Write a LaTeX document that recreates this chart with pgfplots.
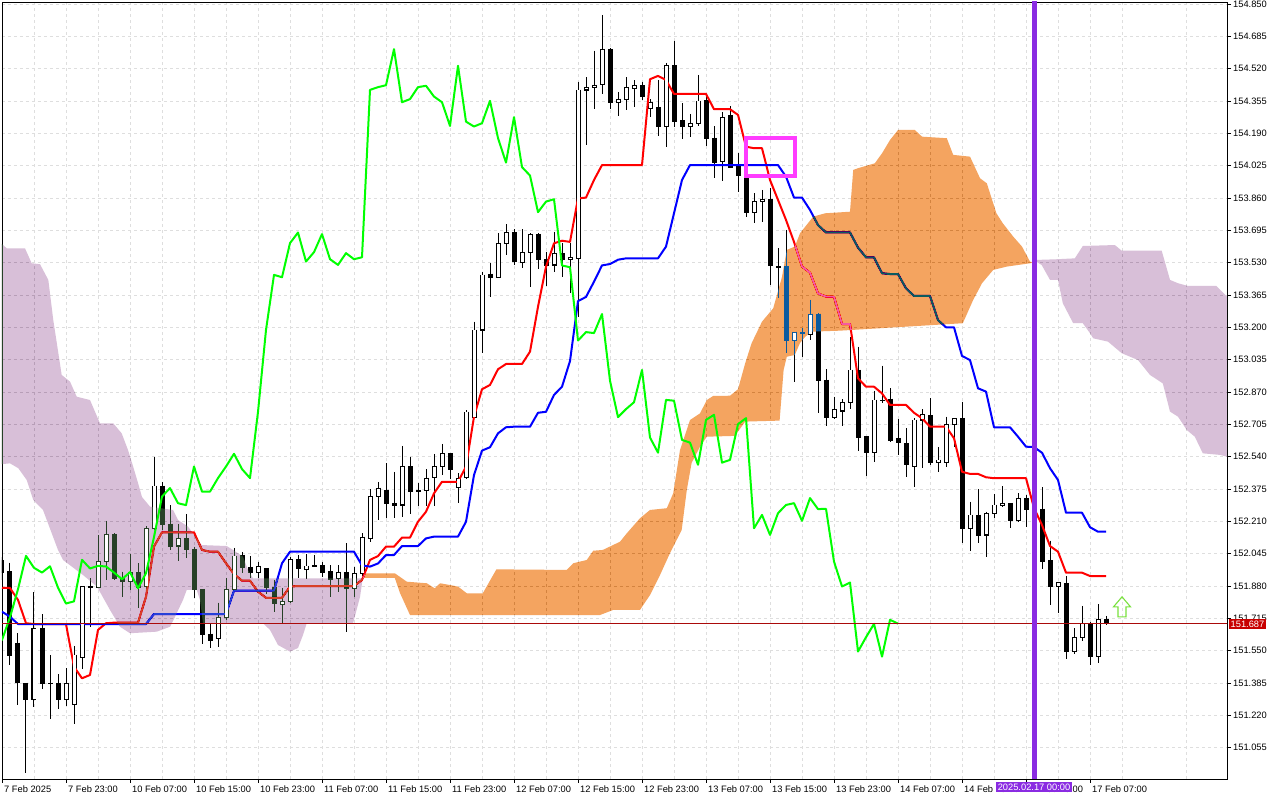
\documentclass[border=0pt]{standalone}
\usepackage{fontspec}
\setmainfont{Liberation Sans}
\usepackage{pgfplots}
\usepackage{pgfplotstable}
\pgfplotsset{compat=1.18}
\definecolor{sandyinv}{RGB}{11,91,159}
\definecolor{thistleinv}{RGB}{39,64,39}
\definecolor{bviolet}{RGB}{138,43,226}
\definecolor{magrect}{RGB}{255,60,255}
\definecolor{pricered}{RGB}{200,0,0}
\definecolor{pline}{RGB}{170,10,10}
\definecolor{arrowgreen}{RGB}{120,225,60}
\pgfdeclareplotmark{mtarrow}{%
  \pgfpathmoveto{\pgfpoint{0pt}{10pt}}%
  \pgfpathlineto{\pgfpoint{8.5pt}{0pt}}%
  \pgfpathlineto{\pgfpoint{4pt}{0pt}}%
  \pgfpathlineto{\pgfpoint{4pt}{-10pt}}%
  \pgfpathlineto{\pgfpoint{-4pt}{-10pt}}%
  \pgfpathlineto{\pgfpoint{-4pt}{0pt}}%
  \pgfpathlineto{\pgfpoint{-8.5pt}{0pt}}%
  \pgfpathclose\pgfusepathqstroke}
\pgfplotsset{mtbase/.style={scale only axis, width=1225pt, height=777pt,
  xmin=0, xmax=153.125, ymin=150.8952, ymax=154.8602}}

\pgfplotstableread{
i o h l c
0 152.009 152.028 151.911 151.948
1 151.952 151.999 151.477 151.526
2 151.588 151.640 151.273 151.387
3 151.384 151.384 150.927 151.302
4 151.302 151.849 151.261 151.664
5 151.664 151.737 151.353 151.384
6 151.384 151.528 151.200 151.380
7 151.384 151.429 151.254 151.302
8 151.302 151.460 151.268 151.384
9 151.276 151.574 151.176 151.528
10 151.516 151.880 151.455 151.877
11 151.877 151.919 151.672 151.872
12 151.873 152.140 151.870 152.004
13 152.004 152.212 151.911 152.144
14 152.144 152.149 151.911 151.919
15 151.919 151.953 151.822 151.902
16 151.902 152.042 151.860 151.948
17 151.948 151.997 151.766 151.870
18 151.877 152.186 151.860 152.171
19 152.171 152.540 152.166 152.390
20 152.390 152.411 152.166 152.196
21 152.196 152.293 152.064 152.084
22 152.084 152.195 152.009 152.120
23 152.120 152.248 152.023 152.064
24 152.064 152.081 151.819 151.860
25 151.863 151.863 151.584 151.630
26 151.634 151.690 151.565 151.604
27 151.613 151.795 151.570 151.720
28 151.720 151.921 151.707 151.863
29 151.863 152.075 151.860 152.033
30 152.038 152.054 151.945 151.972
31 151.975 152.033 151.921 151.948
32 151.948 152.004 151.919 151.980
33 151.970 151.970 151.839 151.871
34 151.871 151.911 151.749 151.790
35 151.787 151.870 151.684 151.801
36 151.800 152.028 151.795 152.013
37 152.016 152.038 151.921 151.969
38 151.965 152.043 151.914 151.982
39 151.984 152.038 151.979 151.979
40 151.986 152.003 151.928 151.948
41 151.952 151.987 151.825 151.914
42 151.919 151.985 151.849 151.950
43 151.950 152.097 151.647 151.868
44 151.868 151.979 151.825 151.945
45 151.945 152.149 151.931 152.129
46 152.123 152.374 152.106 152.336
47 152.337 152.411 152.219 152.379
48 152.370 152.506 152.226 152.302
49 152.302 152.463 152.226 152.292
50 152.293 152.595 152.231 152.489
51 152.489 152.540 152.246 152.361
52 152.366 152.404 152.288 152.361
53 152.365 152.476 152.288 152.430
54 152.435 152.554 152.288 152.489
55 152.489 152.605 152.446 152.554
56 152.554 152.557 152.425 152.476
57 152.384 152.455 152.302 152.430
58 152.435 152.778 152.425 152.768
59 152.741 153.229 152.736 153.186
60 153.186 153.484 153.068 153.467
61 153.472 153.527 153.356 153.455
62 153.455 153.680 153.450 153.629
63 153.629 153.727 153.569 153.683
64 153.683 153.700 153.518 153.535
65 153.532 153.700 153.501 153.583
66 153.583 153.680 153.407 153.675
67 153.675 153.680 153.496 153.547
68 153.547 153.586 153.411 153.518
69 153.518 153.688 153.484 153.578
70 153.578 153.628 153.458 153.547
71 153.547 153.629 153.377 153.557
72 153.552 154.454 153.254 154.411
73 154.411 154.476 154.131 154.425
74 154.425 154.612 154.313 154.435
75 154.437 154.794 154.389 154.619
76 154.619 154.624 154.313 154.348
77 154.348 154.402 154.279 154.364
78 154.364 154.476 154.309 154.425
79 154.420 154.462 154.323 154.432
80 154.432 154.454 154.360 154.377
81 154.318 154.365 154.275 154.348
82 154.323 154.462 154.176 154.227
83 154.224 154.550 154.119 154.534
84 154.534 154.663 154.224 154.249
85 154.254 154.343 154.160 154.224
86 154.224 154.289 154.173 154.241
87 154.241 154.488 154.227 154.355
88 154.360 154.386 154.127 154.165
89 154.165 154.227 153.961 154.040
90 154.045 154.300 153.948 154.272
91 154.279 154.330 154.013 154.017
92 154.028 154.088 153.892 153.974
93 153.969 153.969 153.765 153.787
94 153.787 153.884 153.731 153.841
95 153.841 153.901 153.739 153.853
96 153.850 153.910 153.416 153.515
97 153.510 153.603 153.348 153.506
98 153.510 153.697 153.068 153.132
99 153.132 153.175 152.923 153.175
100 153.173 153.195 153.050 153.170
101 153.165 153.340 153.135 153.267
102 153.267 153.272 152.764 152.927
103 152.931 152.987 152.697 152.741
104 152.741 152.846 152.731 152.782
105 152.773 152.834 152.698 152.817
106 152.817 153.152 152.782 152.982
107 152.982 153.101 152.571 152.637
108 152.642 152.642 152.441 152.560
109 152.562 152.877 152.514 152.829
110 152.829 153.004 152.812 152.825
111 152.834 152.889 152.616 152.625
112 152.634 152.731 152.549 152.611
113 152.605 152.685 152.438 152.498
114 152.489 152.736 152.384 152.727
115 152.727 152.782 152.481 152.753
116 152.748 152.838 152.498 152.509
117 152.511 152.588 152.463 152.523
118 152.511 152.744 152.489 152.705
119 152.705 152.736 152.591 152.736
120 152.736 152.821 152.098 152.174
121 152.174 152.310 152.060 152.242
122 152.242 152.374 152.098 152.140
123 152.140 152.259 152.027 152.251
124 152.251 152.350 152.226 152.293
125 152.290 152.390 152.285 152.302
126 152.302 152.302 152.174 152.212
127 152.212 152.353 152.208 152.328
128 152.328 152.344 152.180 152.272
129 152.272 152.319 152.217 152.273
130 152.272 152.384 151.965 152.004
131 152.008 152.111 151.783 151.877
132 151.877 151.902 151.741 151.897
133 151.894 151.931 151.506 151.545
134 151.545 151.664 151.532 151.618
135 151.618 151.778 151.601 151.686
136 151.686 151.698 151.477 151.519
137 151.519 151.788 151.489 151.707
138 151.707 151.727 151.681 151.687
}\candles

\pgfplotstableread{
i t k
0 151.871 151.749
1 151.870 151.723
2 151.809 151.686
3 151.690 151.686
4 151.686 151.686
5 151.686 151.686
6 151.686 151.686
7 151.686 151.686
8 151.686 151.686
9 151.468 151.686
10 151.409 151.686
11 151.426 151.686
12 151.656 151.686
13 151.690 151.686
14 151.693 151.686
15 151.693 151.686
16 151.693 151.686
17 151.693 151.686
18 151.825 151.686
19 152.081 151.737
20 152.154 151.737
21 152.154 151.737
22 152.154 151.737
23 152.154 151.737
24 152.154 151.737
25 152.064 151.737
26 152.055 151.737
27 152.055 151.737
28 151.996 151.737
29 151.941 151.856
30 151.907 151.856
31 151.907 151.856
32 151.851 151.856
33 151.820 151.856
34 151.820 151.856
35 151.820 151.996
36 151.877 152.055
37 151.880 152.055
38 151.880 152.055
39 151.880 152.055
40 151.880 152.055
41 151.880 152.055
42 151.880 152.055
43 151.880 152.055
44 151.880 152.055
45 151.911 151.985
46 152.013 151.979
47 152.033 151.995
48 152.081 152.038
49 152.081 152.038
50 152.127 152.084
51 152.127 152.084
52 152.208 152.084
53 152.259 152.123
54 152.353 152.132
55 152.412 152.132
56 152.412 152.132
57 152.412 152.132
58 152.489 152.208
59 152.744 152.446
60 152.884 152.571
61 152.906 152.588
62 152.986 152.659
63 153.013 152.690
64 153.013 152.693
65 153.013 152.693
66 153.076 152.693
67 153.305 152.764
68 153.510 152.769
69 153.629 152.855
70 153.642 152.897
71 153.636 153.028
72 153.858 153.334
73 153.862 153.355
74 153.952 153.433
75 154.028 153.516
76 154.028 153.523
77 154.028 153.545
78 154.028 153.552
79 154.028 153.552
80 154.028 153.552
81 154.466 153.552
82 154.483 153.552
83 154.462 153.612
84 154.391 153.782
85 154.391 153.952
86 154.391 154.028
87 154.391 154.028
88 154.391 154.028
89 154.313 154.028
90 154.313 154.028
91 154.313 154.028
92 154.284 154.028
93 154.122 154.028
94 154.114 154.028
95 154.114 154.028
96 153.952 154.028
97 153.850 154.028
98 153.748 153.969
99 153.636 153.862
100 153.510 153.862
101 153.479 153.799
102 153.373 153.722
103 153.357 153.684
104 153.356 153.684
105 153.217 153.684
106 153.217 153.684
107 152.940 153.607
108 152.897 153.557
109 152.897 153.557
110 152.863 153.476
111 152.804 153.472
112 152.804 153.472
113 152.804 153.399
114 152.764 153.360
115 152.736 153.360
116 152.693 153.360
117 152.693 153.237
118 152.693 153.200
119 152.634 153.200
120 152.463 153.054
121 152.452 153.033
122 152.452 152.889
123 152.435 152.872
124 152.430 152.690
125 152.430 152.690
126 152.430 152.690
127 152.430 152.642
128 152.430 152.591
129 152.278 152.589
130 152.191 152.560
131 152.084 152.481
132 152.055 152.421
133 151.948 152.254
134 151.948 152.254
135 151.948 152.254
136 151.931 152.180
137 151.931 152.157
138 151.931 152.157
}\ichi

\begin{document}
\begin{tikzpicture}
\begin{axis}[mtbase,
  axis background/.style={fill=white},
  axis line style={black, line width=0.8pt},
  tick style={black, line width=0.8pt},
  tick align=outside, major tick length=4pt, minor tick length=0pt,
  xtick pos=bottom, ytick pos=right, yticklabel pos=right,
  xtick={0,8,...,136},
  minor xtick={4,12,...,156},
  xticklabels={7 Feb 2025,7 Feb 23:00,10 Feb 07:00,10 Feb 15:00,10 Feb 23:00,11 Feb 07:00,11 Feb 15:00,11 Feb 23:00,12 Feb 07:00,12 Feb 15:00,12 Feb 23:00,13 Feb 07:00,13 Feb 15:00,13 Feb 23:00,14 Feb 07:00,14 Feb 15:00,14 Feb 23:00,17 Feb 07:00},
  ytick={151.055,151.22,151.385,151.55,151.715,151.88,152.045,152.21,152.375,152.54,152.705,152.87,153.035,153.2,153.365,153.53,153.695,153.86,154.025,154.19,154.355,154.52,154.685,154.85},
  yticklabels={151.055,151.220,151.385,151.550,151.715,151.880,152.045,152.210,152.375,152.540,152.705,152.870,153.035,153.200,153.365,153.530,153.695,153.860,154.025,154.190,154.355,154.520,154.685,154.850},
  xticklabel style={anchor=north west, font=\fontsize{9.3}{11}\selectfont, inner xsep=2pt, yshift=1pt},
  yticklabel style={anchor=west, font=\fontsize{9.3}{11}\selectfont, inner xsep=2pt},
  grid=both,
  major grid style={dash pattern=on 3pt off 3pt, draw={rgb,255:red,222;green,222;blue,222}, line width=0.8pt},
  minor grid style={dash pattern=on 3pt off 3pt, draw={rgb,255:red,222;green,222;blue,222}, line width=0.8pt},
]
% wicks
\addplot[draw=none, mark=none, forget plot, error bars/.cd, y dir=minus, y explicit, error mark=none,
  error bar style={draw=black, line width=1pt, solid}]
  table[x=i, y=h, y error minus expr={\thisrow{h}-\thisrow{l}}] {\candles};
% bodies (outline / bearish fill)
\addplot[draw=none, mark=none, forget plot, error bars/.cd, y dir=minus, y explicit, error mark=none,
  error bar style={draw=black, line width=5pt, solid}]
  table[x=i, y expr={max(\thisrow{o},\thisrow{c})+0.0025}, y error minus expr={abs(\thisrow{o}-\thisrow{c})+0.005}] {\candles};
% tenkan and kijun
\addplot[draw={rgb,255:red,255;green,0;blue,0}, line width=2pt, line join=round, mark=none] table[x=i, y=t] {\ichi};
\addplot[draw={rgb,255:red,0;green,0;blue,255}, line width=2pt, line join=round, mark=none] table[x=i, y=k] {\ichi};
\end{axis}

% cloud, inverting what lies below it, as MT4 draws it
\begin{scope}[blend mode=difference]
\begin{axis}[mtbase, hide axis]
\addplot[fill=thistleinv, draw=none] coordinates {
(-1,153.662) (0.59,153.603) (2.875,153.603) (3.71,153.527) (4.75,153.522) (5.79,153.442) (6.41,153.237) (7.46,152.957) (8.5,152.923) (9.34,152.846) (11,152.829) (12.25,152.710) (13.91,152.710) (14.96,152.659) (15.75,152.574) (16.375,152.492) (17,152.406) (17.5,152.334) (18.5,152.285) (21.375,152.268) (22,152.217) (23.25,152.183) (24.96,152.089) (28.09,152.084) (28.875,152.064) (30.125,152.030) (30.75,151.962) (31.375,151.919) (44.75,151.919) (45.1,151.921)
(44.75,151.824) (43.875,151.689) (38.09,151.690) (37.625,151.630) (37,151.564) (36,151.545) (34.5,151.579) (33.5,151.656) (32.625,151.690) (25.125,151.690) (24.75,151.809) (24.34,151.860) (23.09,151.860) (22.625,151.809) (21.625,151.723) (21,151.672) (19.34,151.647) (16,151.639) (14.75,151.672) (13.5,151.758) (11.875,151.877) (10.125,151.936) (7.625,152.013) (7,152.064) (6.375,152.132) (5.125,152.268) (3.91,152.319) (3.09,152.421) (2.04,152.481) (1,152.506) (-1,152.498)
} -- cycle;
\addplot[fill=sandyinv, draw=none] coordinates {
(45.1,151.921) (45.4,151.945) (49.1,151.945) (50.6,151.902) (53.1,151.894) (54.1,151.868) (54.75,151.894) (56,151.885) (57,151.877) (58.1,151.843) (60.1,151.843) (61.8,151.965) (70.6,151.962) (71.4,151.996) (73.1,152.013) (73.9,152.060) (75.1,152.064) (77.25,152.106) (78.1,152.149) (79.75,152.226) (81,152.268) (83.1,152.277) (83.9,152.353) (84.75,152.574) (86,152.727) (87.25,152.761) (88.1,152.829) (88.9,152.850) (91,152.851) (92,152.884) (92.9,153.017) (93.7,153.119) (95,153.229) (96.4,153.297) (97.5,153.458) (98.1,153.595) (99.1,153.612) (99.75,153.680) (101.4,153.765) (102.9,153.782) (106,153.790) (106.4,154.003) (107,154.012) (109.1,154.037) (110,154.088) (111,154.156) (112,154.207) (114.1,154.207) (115,154.173) (118.1,154.165) (118.9,154.080) (121,154.071) (122.25,153.961) (123.1,153.935) (124.3,153.782) (125.1,153.731) (126.4,153.663) (127.5,153.612) (128.5,153.535) (128.9,153.531)
(128.5,153.527) (125.6,153.510) (123.9,153.493) (122.5,153.425) (121.4,153.340) (120.1,153.221) (104.75,153.183) (101.2,153.178) (100.4,153.152) (99.75,153.120) (99.1,153.059) (98.1,153.050) (97.7,152.982) (97.2,152.724) (92.9,152.719) (91.6,152.646) (88.1,152.642) (87.25,152.591) (86.2,152.508) (85.6,152.370) (84.96,152.166) (83.5,152.048) (82.25,151.936) (81,151.834) (79.75,151.758) (76.4,151.758) (74.75,151.732) (51,151.732) (49.75,151.844) (49.1,151.921)
} -- cycle;
\addplot[fill=thistleinv, draw=none] coordinates {
(128.9,153.531) (129.3,153.544) (131.6,153.547) (134.1,153.552) (135.1,153.615) (139.1,153.620) (139.96,153.591) (144.96,153.591) (146,153.442) (147,153.425) (148.25,153.411) (151.8,153.411) (153.1,153.357) (156,153.357)
(156,152.540) (153.1,152.540) (152.25,152.549) (150.1,152.557) (149.1,152.642) (148.1,152.676) (147,152.744) (146,152.770) (145.1,152.914) (143.5,152.957) (142,153.033) (139.96,153.068) (138.25,153.127) (136.4,153.144) (136,153.170) (135.1,153.221) (133.9,153.221) (132.6,153.323) (132,153.442) (131,153.442) (129.96,153.518) (129.3,153.535)
} -- cycle;
\end{axis}
\end{scope}

\begin{axis}[mtbase, hide axis]
% white interiors of bullish candles
\addplot[draw=none, mark=none, forget plot, error bars/.cd, y dir=minus, y explicit, error mark=none,
  error bar style={draw=white, line width=3pt, solid}]
  table[x=i, y expr={\thisrow{c}>\thisrow{o}+0.006 ? \thisrow{c}-0.0026 : 100}, y error minus expr={\thisrow{c}>\thisrow{o}+0.006 ? \thisrow{c}-\thisrow{o}-0.0052 : 0}] {\candles};
% chikou span
\addplot[draw={rgb,255:red,0;green,255;blue,0}, line width=2pt, line join=round, mark=none] table[x expr=\thisrow{i}-26, y=c] {\candles};
% current price line
\addplot[draw=pline, line width=0.8pt, mark=none] coordinates {(-1,151.687) (160,151.687)};
% vertical line
\addplot[draw=bviolet, line width=5pt, mark=none] coordinates {(129,150.5) (129,155.2)};
% magenta rectangle
\addplot[draw=magrect, line width=4pt, mark=none] coordinates {(93,154.166) (99.09,154.166) (99.09,153.974) (93,153.974)} -- cycle;
% arrow
\addplot[only marks, mark=mtarrow, mark options={draw=arrowgreen, line width=1.1pt, fill=none}] coordinates {(140,151.773)};
\coordinate (pricept) at (axis cs:153.125,151.687);
\coordinate (vlbot) at (axis cs:129,150.8952);
\end{axis}
\node[fill=pricered, text=white, anchor=west, inner xsep=2pt, inner ysep=1.5pt, font=\fontsize{9.3}{11}\selectfont] at ([xshift=1.5pt]pricept) {151.687};
\node[fill=bviolet, text=white, anchor=north, inner xsep=2pt, inner ysep=1.8pt, font=\fontsize{9.3}{11}\selectfont] at ([yshift=-3pt]vlbot) {2025.02.17 00:00};
\pgfresetboundingbox
\path ([shift={(-2pt,-21pt)}]current axis.south west) rectangle ([shift={(53pt,2pt)}]current axis.north east);
\end{tikzpicture}
\end{document}
